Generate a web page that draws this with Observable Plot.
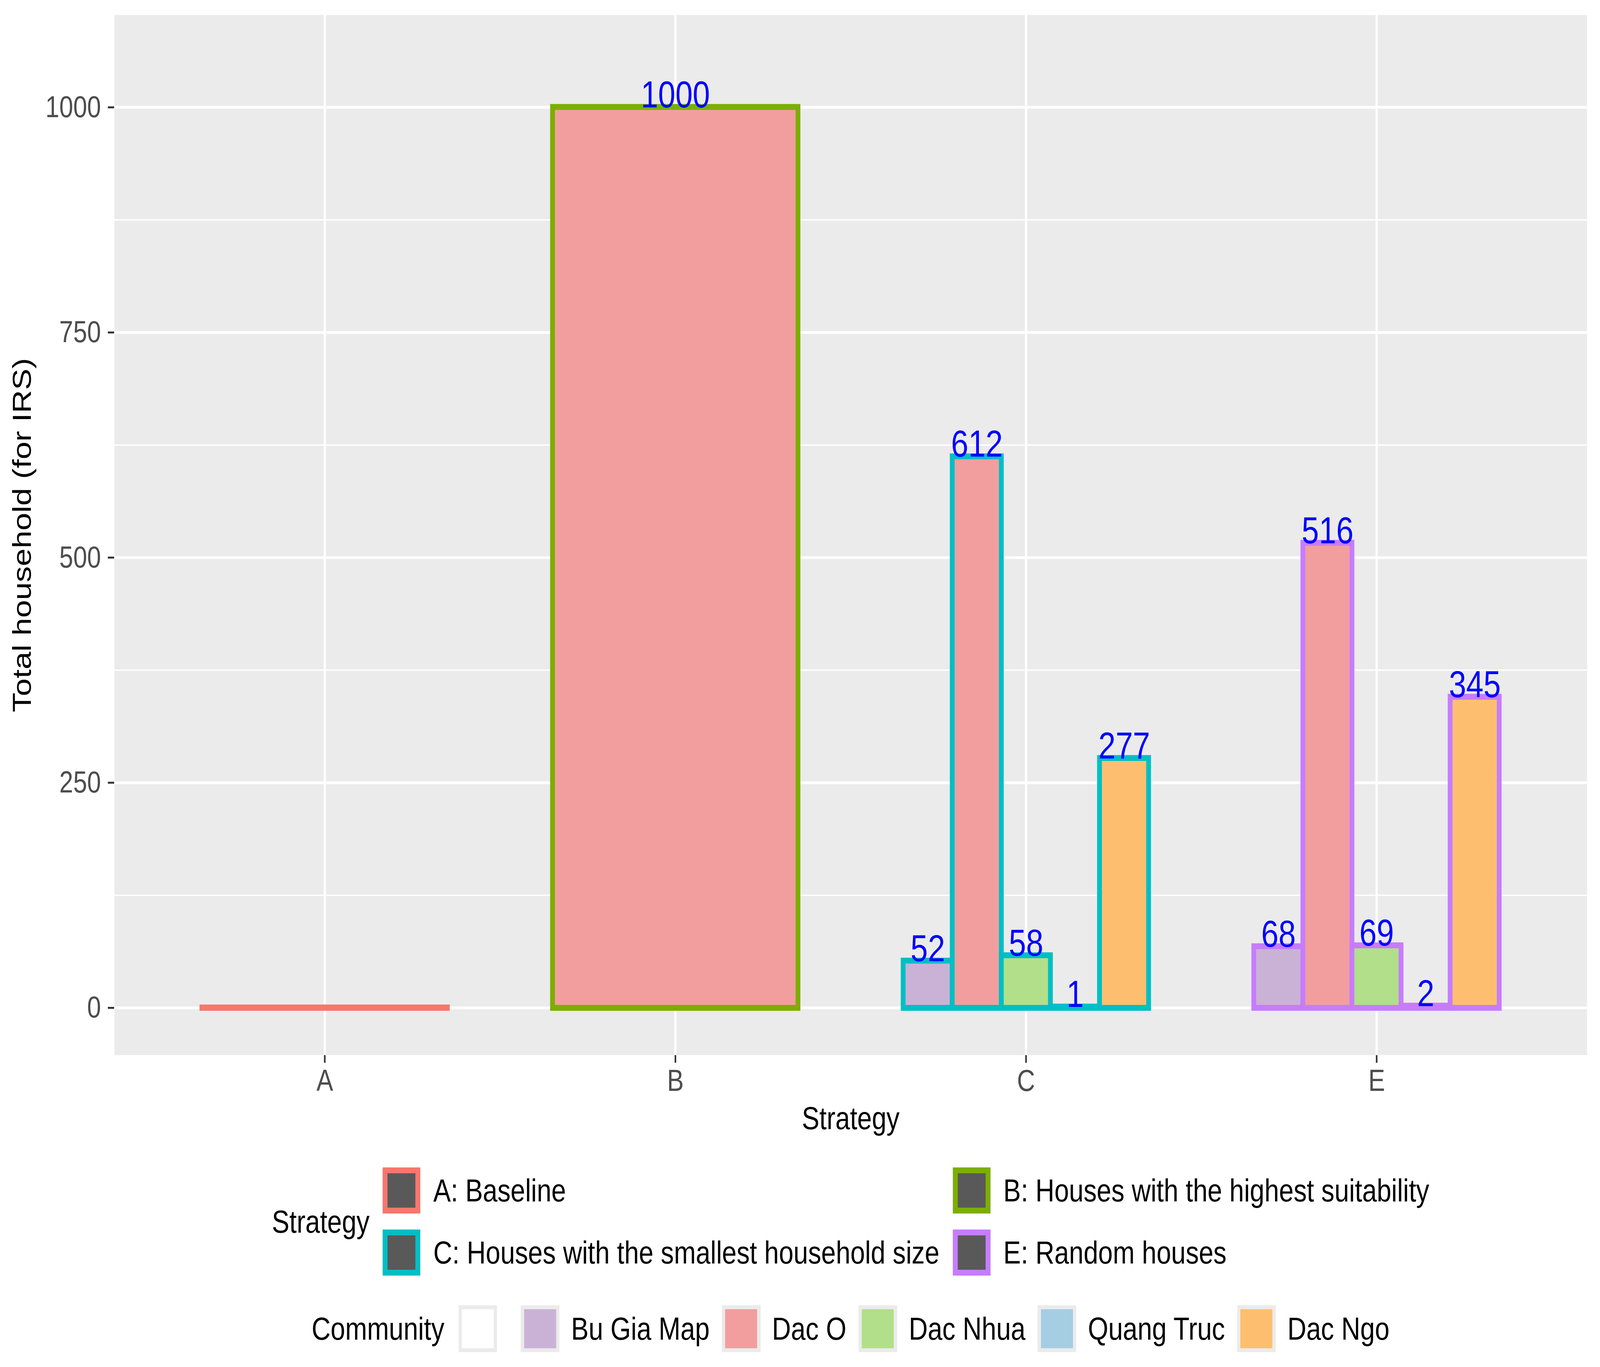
<!DOCTYPE html>
<html>
<head>
<meta charset="utf-8">
<script src="https://cdn.jsdelivr.net/npm/d3@7"></script>
<script src="https://cdn.jsdelivr.net/npm/@observablehq/plot@0.6"></script>
<style>
html, body { margin: 0; padding: 0; background: #ffffff; overflow: hidden; }
#wrap { position: relative; width: 5000px; height: 3500px; font-family: "Liberation Sans", Arial, Helvetica, sans-serif; background: #fff; transform-origin: 0 0; }
#chart { position: absolute; left: 0; top: 0; }
#chart svg [aria-label^="y-axis"] line, #chart svg [aria-label^="x-axis"] line,
#chart svg [aria-label="y-axis tick"] path, #chart svg [aria-label="x-axis tick"] path { stroke: #333333; stroke-width: 5px; }
#chart svg [aria-label^="y-axis"] text, #chart svg [aria-label^="x-axis"] text { fill: #4D4D4D; }
#chart svg [aria-label^="y-axis"] path.domain, #chart svg [aria-label^="x-axis"] path.domain { display: none; }
.leg { position: absolute; left: 357px; width: 4602px; display: flex; justify-content: center; align-items: center; color: #000; font-size: 82px; }
.leg .title { white-space: nowrap; }
#legS .grid { display: grid; grid-template-columns: auto auto; column-gap: 42px; row-gap: 41px; }
.item { display: flex; align-items: center; white-space: nowrap; }
.skey { width: 117px; height: 118px; box-sizing: border-box; border: 15px solid; background: #595959; margin-right: 41px; flex: none; }
.ckey { width: 120px; height: 120px; box-sizing: border-box; border: 10px solid #EBEBEB; margin-right: 37px; flex: none; }
</style>
</head>
<body>
<div id="wrap">
  <div id="chart"></div>
  <div id="legS" class="leg" style="top:2989px"></div>
  <div id="legC" class="leg" style="top:3342px"></div>
</div>
<script>
// ---- data ----
const strategies = ["A", "B", "C", "E"];
const strategyLabels = [
  "A: Baseline",
  "B: Houses with the highest suitability",
  "C: Houses with the smallest household size",
  "E: Random houses"
];
const strategyColors = ["#F8766D", "#7CAE00", "#00BFC4", "#C77CFF"];

const communities = ["", "Bu Gia Map", "Dac O", "Dac Nhua", "Quang Truc", "Dac Ngo"];
const communityColors = ["#FFFFFF", "#CAB2D6", "#F29E9F", "#B2DF8A", "#A6CEE3", "#FDBF6F"];

const barStrategy  = ["A", "B", "C", "C", "C", "C", "C", "E", "E", "E", "E", "E"];
const barCommunity = ["", "Dac O", "Bu Gia Map", "Dac O", "Dac Nhua", "Quang Truc", "Dac Ngo",
                      "Bu Gia Map", "Dac O", "Dac Nhua", "Quang Truc", "Dac Ngo"];
const barValue     = [0, 1000, 52, 612, 58, 1, 277, 68, 516, 69, 2, 345];

const yTicks = [0, 250, 500, 750, 1000];
const yMinor = [125, 375, 625, 875];

// ---- fit the 5000x3500 layout to the actual window ----
const kx = (window.innerWidth || 5000) / 5000;
const ky = (window.innerHeight || 3500) / 3500;
if (Math.abs(kx - 1) > 1e-3 || Math.abs(ky - 1) > 1e-3)
  document.getElementById("wrap").style.transform = `scale(${kx}, ${ky})`;

// ---- build table (dodge within each strategy, total width 0.7) ----
const rows = barValue.map((v, i) => ({
  strategy: barStrategy[i],
  community: barCommunity[i],
  value: v
}));
strategies.forEach((s, si) => {
  const grp = rows.filter(r => r.strategy === s);
  const n = grp.length, c = si + 1, w = 0.7 / n;
  grp.forEach((r, j) => {
    r.x1 = c - 0.35 + j * w;
    r.x2 = r.x1 + w;
    r.xm = (r.x1 + r.x2) / 2;
  });
});
const fillOf = c => communityColors[communities.indexOf(c)];
const strokeOf = s => strategyColors[strategies.indexOf(s)];
const xPositions = strategies.map((s, i) => i + 1);

const W = 5000, H = 2960;
const chart = Plot.plot({
  width: W,
  height: H,
  marginLeft: 357,
  marginRight: 41,
  marginTop: 38,
  marginBottom: H - 2701,
  style: { fontFamily: "Liberation Sans, Arial, Helvetica, sans-serif", fontSize: "78px", background: "transparent", overflow: "visible" },
  x: { type: "linear", domain: [0.4, 4.6], ticks: xPositions, tickFormat: d => strategies[d - 1], tickSize: 20, tickPadding: 16, label: null },
  y: { type: "linear", domain: [-52.5, 1102.5], ticks: yTicks, tickFormat: d => String(d), tickSize: 20, tickPadding: 22, label: null },
  color: { type: "identity" },
  marks: [
    Plot.frame({ fill: "#EBEBEB", stroke: "none" }),
    Plot.ruleY(yMinor, { stroke: "#FFFFFF", strokeWidth: 3.5 }),
    Plot.ruleY(yTicks, { stroke: "#FFFFFF", strokeWidth: 7 }),
    Plot.ruleX(xPositions, { stroke: "#FFFFFF", strokeWidth: 7 }),
    Plot.rect(rows, {
      x1: "x1", x2: "x2", y1: 0, y2: "value",
      fill: d => fillOf(d.community),
      stroke: d => strokeOf(d.strategy),
      strokeWidth: 15,
      insetTop: -0.5, insetBottom: -0.5
    }),
    Plot.text(rows.filter(r => r.community !== ""), {
      x: "xm", y: "value", text: d => String(d.value),
      fill: "#0000FF", fontSize: 97, lineAnchor: "bottom", textAnchor: "middle"
    }),
    Plot.text(["Strategy"], { frameAnchor: "bottom", dy: 163, lineAnchor: "middle", textAnchor: "middle", fontSize: 82, fill: "#000" }),
    Plot.text(["Total household (for IRS)"], { frameAnchor: "left", rotate: -90, dx: -287, lineAnchor: "middle", textAnchor: "middle", fontSize: 82, fill: "#000" })
  ]
});
document.getElementById("chart").appendChild(chart);

// ---- legends ----
const legS = document.getElementById("legS");
const st = document.createElement("span");
st.className = "title"; st.textContent = "Strategy"; st.style.marginRight = "41px";
legS.appendChild(st);
const grid = document.createElement("div"); grid.className = "grid";
strategies.forEach((s, i) => {
  const it = document.createElement("div"); it.className = "item";
  const kk = document.createElement("div"); kk.className = "skey"; kk.style.borderColor = strategyColors[i];
  const t = document.createElement("span"); t.textContent = strategyLabels[i];
  it.appendChild(kk); it.appendChild(t); grid.appendChild(it);
});
legS.appendChild(grid);

const legC = document.getElementById("legC");
const ct = document.createElement("span");
ct.className = "title"; ct.textContent = "Community"; ct.style.marginRight = "44px";
legC.appendChild(ct);
communities.forEach((c, i) => {
  const it = document.createElement("div"); it.className = "item";
  if (i < communities.length - 1) it.style.marginRight = "38px";
  const kk = document.createElement("div"); kk.className = "ckey"; kk.style.background = communityColors[i];
  const t = document.createElement("span"); t.textContent = c;
  it.appendChild(kk); it.appendChild(t); legC.appendChild(it);
});
</script>
</body>
</html>
